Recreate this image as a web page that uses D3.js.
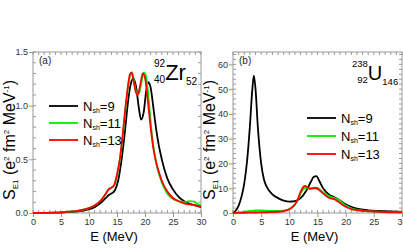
<!DOCTYPE html>
<html>
<head>
<meta charset="utf-8">
<script src="https://cdn.jsdelivr.net/npm/d3@7"></script>
<style>
  body { margin: 0; background: #fff; }
  svg { font-family: "Liberation Sans", Arial, sans-serif; }
</style>
</head>
<body>
<svg id="chart" width="403" height="250"></svg>
<script>
// Series data
const seriesNames = ['9', '11', '13'];
const seriesColors = ['#000000', '#00ee00', '#ff0000'];
const xTicks = [0, 5, 10, 15, 20, 25, 30];

// (a) 92Zr
const zrE9 = [0,4,6,8,10,11,12,13,13.6,14.1,14.6,15.2,15.8,16.4,17,17.5,17.9,18.4,18.9,19.3,19.8,20.2,20.6,21,21.5,22,22.5,23,23.5,24,25,26,27,28,29,30];
const zrS9 = [0,0.003,0.008,0.015,0.035,0.055,0.09,0.14,0.17,0.185,0.21,0.3,0.49,0.75,1.05,1.21,1.255,1.18,0.98,0.87,0.95,1.13,1.22,1.17,0.98,0.78,0.62,0.5,0.4,0.32,0.22,0.15,0.11,0.085,0.07,0.055];
const zrE11 = [0,4,6,8,10,11,12,13,13.5,14,14.5,15,15.5,16,16.5,17,17.4,17.7,18.1,18.5,18.9,19.3,19.8,20.2,20.7,21.2,21.7,22.2,22.7,23.2,24,25,26,27,28,28.8,29.5,30];
const zrS11 = [0,0.003,0.01,0.02,0.045,0.07,0.11,0.18,0.22,0.235,0.26,0.35,0.49,0.7,0.96,1.18,1.29,1.31,1.21,1.12,1.11,1.2,1.31,1.27,1.03,0.75,0.55,0.42,0.33,0.26,0.18,0.13,0.11,0.1,0.11,0.105,0.08,0.07];
const zrE13 = [0,4,6,8,10,11,12,13,13.5,14,14.5,15,15.5,16,16.5,17,17.3,17.6,18,18.4,18.7,19.1,19.6,20,20.5,21,21.5,22,22.5,23,24,25,26,27,28,29,30];
const zrS13 = [0,0.003,0.01,0.02,0.045,0.07,0.11,0.18,0.22,0.235,0.26,0.36,0.5,0.72,0.98,1.2,1.29,1.31,1.22,1.12,1.10,1.18,1.30,1.26,1.05,0.8,0.6,0.47,0.38,0.3,0.2,0.14,0.11,0.09,0.08,0.07,0.06];
const zrYTicks = [0, 0.5, 1.0, 1.5];

// (b) 238U
const uE9 = [0,0.5,1,1.5,2,2.5,3,3.4,3.7,4,4.4,5,5.5,6,7,8,9,10,11,12,13,13.8,14.3,14.8,15.3,16,17,18,19,20,21,22,24,26,28,30];
const uS9 = [0,1,3,6.5,12,21,35,49,55.5,50,35,20,13.5,10.5,7.5,6,5,4.6,4.8,6,9,12.5,14.5,14.9,13,10,7.5,6.3,5,3.5,2.5,1.8,1.1,0.8,0.6,0.45];
const uE11 = [0,1,2,3,4,5,6,7,8,9,10,10.5,11,11.5,12,12.5,13,13.5,14,14.5,15,15.5,16,16.7,17.3,18,18.6,19.2,20,21,22,23,25,27,30];
const uS11 = [0,0.2,0.5,0.8,1,1,0.9,0.8,0.8,1,1.6,2.3,3.4,5.2,7.8,9.6,10.2,9.8,9.8,10.2,10.1,9.3,8.3,7.3,6.5,6,5.5,4.5,3,1.9,1.3,1,0.65,0.45,0.3];
const uE13 = [0,2,4,6,8,9,10,10.5,11,11.5,12,12.4,12.8,13.2,13.7,14.2,14.7,15.2,15.8,16.5,17.2,17.8,18.3,19,20,21,22,23,25,27,30];
const uS13 = [0,0.1,0.2,0.3,0.5,0.8,1.5,2.3,3.5,5.5,8.5,10.3,10.9,10.4,9.9,10,10,9.5,8.3,7,6,5.7,5.2,4,2.5,1.6,1.2,0.9,0.6,0.4,0.25];
const uYTicks = [0, 10, 20, 30, 40, 50, 60];

const svg = d3.select('#chart');
const frameColor = '#999';

function zip(es, ss) { return es.map((e, i) => [e, ss[i]]); }

function panel(opts) {
  const x = d3.scaleLinear().domain([0, 30]).range([opts.left, opts.right]);
  const y = d3.scaleLinear().domain([0, opts.ymax]).range([213, 52]);
  const g = svg.append('g');

  // minor ticks, inward on all four sides
  const xMinor = d3.range(0, 30.01, 1);
  const yMinor = d3.range(0, opts.ymax + 1e-9, opts.yMinor);
  xMinor.forEach(v => {
    g.append('line').attr('x1', x(v)).attr('x2', x(v)).attr('y1', 213).attr('y2', 210)
      .attr('stroke', frameColor);
    g.append('line').attr('x1', x(v)).attr('x2', x(v)).attr('y1', 52).attr('y2', 55)
      .attr('stroke', frameColor);
  });
  yMinor.forEach(v => {
    g.append('line').attr('x1', opts.left).attr('x2', opts.left + 3).attr('y1', y(v)).attr('y2', y(v))
      .attr('stroke', frameColor);
    g.append('line').attr('x1', opts.right).attr('x2', opts.right - 3).attr('y1', y(v)).attr('y2', y(v))
      .attr('stroke', frameColor);
  });

  // axes with outward major ticks
  const xAxis = g.append('g').attr('transform', 'translate(0,213)')
    .call(d3.axisBottom(x).tickValues(xTicks).tickSize(4).tickPadding(2).tickFormat(d3.format('d')));
  const yAxis = g.append('g').attr('transform', 'translate(' + opts.left + ',0)')
    .call(d3.axisLeft(y).tickValues(opts.yTicks).tickSize(4).tickPadding(1).tickFormat(opts.fmt));
  [xAxis, yAxis].forEach(a => {
    a.select('.domain').remove();
    a.selectAll('line').attr('stroke', frameColor);
    a.selectAll('text').attr('fill', '#333').style('font-size', '9px');
  });

  g.append('rect').attr('x', opts.left).attr('y', 52)
    .attr('width', opts.right - opts.left).attr('height', 161)
    .attr('fill', 'none').attr('stroke', frameColor);

  const line = d3.line().x(d => x(d[0])).y(d => y(d[1])).curve(d3.curveMonotoneX);
  opts.series.forEach((s, i) => {
    g.append('path').datum(s).attr('fill', 'none')
      .attr('stroke', seriesColors[i]).attr('stroke-width', 1.8).attr('d', line);
  });

  // panel label
  g.append('text').attr('x', opts.left + 6).attr('y', opts.labelY).text(opts.label)
    .style('font-size', '10px').attr('fill', '#222');

  // legend
  seriesNames.forEach((n, i) => {
    const ly = opts.legY + i * opts.legDy;
    g.append('line').attr('x1', opts.legX).attr('x2', opts.legX + 29).attr('y1', ly).attr('y2', ly)
      .attr('stroke', seriesColors[i]).attr('stroke-width', 1.8);
    const t = g.append('text').attr('x', opts.legX + 34).attr('y', ly + 5).style('font-size', '13px');
    t.append('tspan').text('N');
    t.append('tspan').attr('dy', 2).style('font-size', '7px').text('sh');
    t.append('tspan').attr('dy', -2).text('=' + n);
  });

  // x title
  g.append('text').attr('x', (opts.left + opts.right) / 2 - 3).attr('y', 241)
    .attr('text-anchor', 'middle').style('font-size', '13px').text('E (MeV)');

  // y title
  const yt = g.append('text')
    .attr('transform', 'translate(' + (opts.left - 18) + ',140) rotate(-90)')
    .attr('text-anchor', 'middle').style('font-size', '16px');
  yt.append('tspan').text('S');
  yt.append('tspan').attr('dy', 3).style('font-size', '8px').text('E1');
  yt.append('tspan').attr('dy', -3).text(' (e');
  yt.append('tspan').attr('dy', -6).style('font-size', '8px').text('2');
  yt.append('tspan').attr('dy', 6).text(' fm');
  yt.append('tspan').attr('dy', -6).style('font-size', '8px').text('2');
  yt.append('tspan').attr('dy', 6).text(' MeV');
  yt.append('tspan').attr('dy', -6).style('font-size', '8px').text('-1');
  yt.append('tspan').attr('dy', 6).text(')');

  return g;
}

const ga = panel({
  left: 33, right: 201, ymax: 1.5, yMinor: 0.1, yTicks: zrYTicks, fmt: d3.format('.1f'),
  series: [zip(zrE9, zrS9), zip(zrE11, zrS11), zip(zrE13, zrS13)],
  label: '(a)', labelY: 64, legX: 49, legY: 106, legDy: 17
});
const gb = panel({
  left: 233, right: 402, ymax: 65, yMinor: 2, yTicks: uYTicks, fmt: d3.format('d'),
  series: [zip(uE9, uS9), zip(uE11, uS11), zip(uE13, uS13)],
  label: '(b)', labelY: 64, legX: 307, legY: 118, legDy: 18
});

// nuclide labels
function nuclide(g, x, a, z, sym, n, fs, ss) {
  const sup = g.append('text').attr('y', 67).style('font-size', ss + 'px').text(a);
  const sub = g.append('text').attr('y', 83).style('font-size', ss + 'px').text(z);
  const w = Math.max(sup.node().getComputedTextLength(), sub.node().getComputedTextLength());
  sup.attr('x', x + w).attr('text-anchor', 'end');
  sub.attr('x', x + w).attr('text-anchor', 'end');
  const s = g.append('text').attr('x', x + w).attr('y', 80).style('font-size', fs + 'px').text(sym);
  g.append('text').attr('x', x + w + s.node().getComputedTextLength()).attr('y', 85)
    .style('font-size', ss + 'px').text(n);
}
nuclide(ga, 154, '92', '40', 'Zr', '52', 22, 10);
nuclide(gb, 352, '238', '92', 'U', '146', 20, 9.5);
</script>
</body>
</html>
